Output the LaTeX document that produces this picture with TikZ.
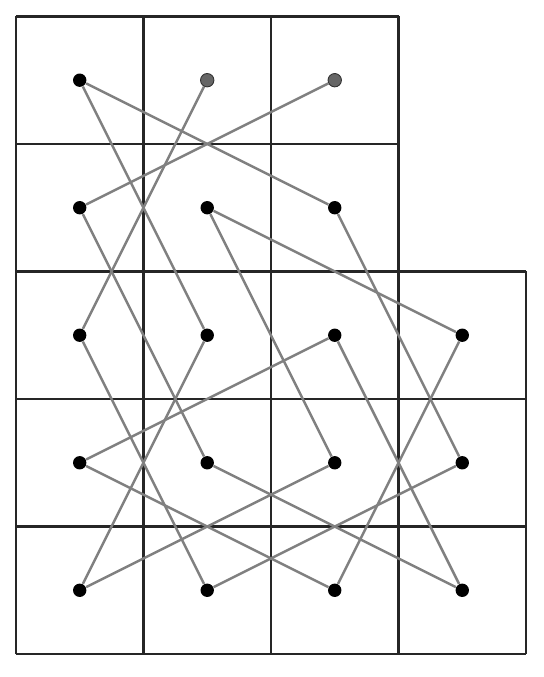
\documentclass[tikz,border=0pt]{standalone}
\usepackage{tikz}
\usetikzlibrary{calc}
\tikzset{
  dot/.style={circle, fill=black, inner sep=0pt, minimum size=2.1mm},
  enddot/.style={dot, fill=black!60, draw=black!80, line width=0.4pt},
  hop/.style={line width=1.1pt, color=black!50},
  board/.style={line width=1.1pt, color=black!85, step=1},
}

\begin{document}
\begin{tikzpicture}[x=2cm, y=2cm]
			%%%%% START %%%%%
			\useasboundingbox (-0.125, -0.18) rectangle (4.141, 5.129);
			
			% board
			\draw[board] (0, 0) grid (4, 3);
			\draw[board] (0, 3) grid (3, 5);
			
			% squares
			\foreach \c in {0,1,2,3}
			  \foreach \r in {0,1,2}
			    \node[dot] (p\c\r) at (\c+0.5, \r+0.5) {};
			\foreach \c in {0,1,2}
			  \node[dot] (p\c3) at (\c+0.5, 3.5) {};
			\node[dot] (p04) at (0.5, 4.5) {};
			\node[enddot] (p14) at (1.5, 4.5) {};
			\node[enddot] (p24) at (2.5, 4.5) {};
			
			% moves
			\draw[hop] (p04) -- (p23);
			\draw[hop] (p04) -- (p12);
			\draw[hop] (p14) -- (p02);
			\draw[hop] (p24) -- (p03);
			\draw[hop] (p03) -- (p11);
			\draw[hop] (p13) -- (p32);
			\draw[hop] (p13) -- (p21);
			\draw[hop] (p23) -- (p31);
			\draw[hop] (p02) -- (p10);
			\draw[hop] (p12) -- (p00);
			\draw[hop] (p22) -- (p01);
			\draw[hop] (p22) -- (p30);
			\draw[hop] (p32) -- (p20);
			\draw[hop] (p01) -- (p20);
			\draw[hop] (p11) -- (p30);
			\draw[hop] (p21) -- (p00);
			\draw[hop] (p31) -- (p10);
			
			%%%%% END %%%%%
		\end{tikzpicture}
\end{document}
